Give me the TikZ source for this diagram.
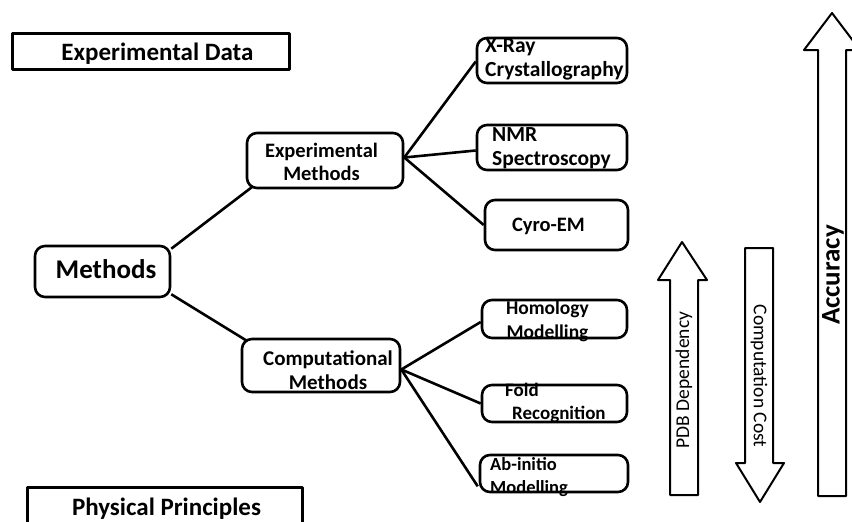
\documentclass[tikz,border=0pt]{standalone}
\usepackage{fontspec}
\setmainfont{Carlito}
\newcommand{\fsz}[2]{\fontsize{#1}{#2}\selectfont\bfseries}
\begin{document}
\begin{tikzpicture}[x=1pt,y=-1pt,
  line join=round,
  sqbox/.style={draw,line width=3pt,rectangle,inner sep=0pt},
  rbox/.style={draw,line width=2.6pt,rectangle,rounded corners=10pt,inner sep=0pt},
  lbl/.style={inner sep=0pt},
  big/.style={font=\fsz{25}{29},inner sep=0pt},
  link/.style={line width=2.6pt},
  fat/.style={draw,line width=2pt,fill=white},
  sidetxt/.style={font=\fontsize{19.5}{22}\selectfont,inner sep=0pt}]
\useasboundingbox (0,0) rectangle (852,522);
\clip (0,0) rectangle (852,522);

% title boxes
\node[sqbox,minimum width=277pt,minimum height=36pt] (expdata) at (150.5,51) {};
\node[big] (expdatat) at (157.5,54) {Experimental Data};
\node[sqbox,minimum width=275pt,minimum height=50pt] (phys) at (164.5,512) {};
\node[big] (physt) at (166.5,509) {Physical Principles};

% method tree
\node[rbox,minimum width=135pt,minimum height=51pt] (meth) at (102.5,271.5) {};
\node[lbl,font=\fsz{27}{30}] at (106,269) {Methods};

\node[rbox,minimum width=156pt,minimum height=55pt] (expm) at (325,160.5) {};
\node[lbl,font=\fsz{20.5}{23},align=center] at (321.5,162) {Experimental\\Methods};

\node[rbox,minimum width=158pt,minimum height=53pt] (compm) at (321,365.5) {};
\node[lbl,font=\fsz{21}{24},align=center] at (328,370.5) {Computational\\Methods};

\node[rbox,minimum width=150pt,minimum height=45pt] (xray) at (552,60.5) {};
\node[lbl,font=\fsz{21.5}{24},align=left,anchor=west] at (485,59.5) {X-Ray\\Crystallography};

\node[rbox,minimum width=150pt,minimum height=45pt] (nmr) at (552,147.5) {};
\node[lbl,font=\fsz{21.5}{24},align=left,anchor=west] at (492,148.5) {NMR\\Spectroscopy};

\node[rbox,minimum width=143pt,minimum height=50pt] (cyro) at (556.5,225) {};
\node[lbl,font=\fsz{20.5}{24}] at (548.5,226) {Cyro-EM};

\node[rbox,minimum width=145pt,minimum height=38pt] (homol) at (554.5,319) {};
\node[lbl,font=\fsz{19.5}{24},align=center] at (547.5,321) {Homology\\Modelling};

\node[rbox,minimum width=145pt,minimum height=37pt] (fold) at (554.5,403.5) {};
\node[lbl,font=\fsz{19}{23},align=left,anchor=west] at (505,402.5) {Fold\\\hspace{7pt}Recognition};

\node[rbox,minimum width=148pt,minimum height=37pt] (abinit) at (554,473.5) {};
\node[lbl,font=\fsz{18.5}{23},align=left,anchor=west] at (490,477.5) {Ab-initio\\Modelling};

% connectors
\draw[link] ([yshift=-4pt]meth.north east) -- ([xshift=6pt,yshift=2pt]expm.south west);
\draw[link] ([yshift=4pt]meth.south east) -- ([xshift=6pt,yshift=-3pt]compm.north west);
\coordinate (ej) at ([yshift=3pt]expm.east);
\draw[link] (ej) -- ([yshift=-1pt]xray.west);
\draw[link] (ej) -- ([yshift=-3pt]nmr.west);
\draw[link] (ej) -- (cyro.west);
\coordinate (cj) at ([yshift=-4pt]compm.east);
\draw[link] (cj) -- ([yshift=-3pt]homol.west);
\draw[link] (cj) -- (fold.west);
\draw[link] (cj) -- ([xshift=-1pt,yshift=7pt]abinit.south west);

% trend arrows
\draw[fat] (670,495) -- (670,280) -- (658,280) -- (682,242) -- (707,280) -- (698,280) -- (698,495) -- cycle;
\node[sidetxt,rotate=90] (pdb) at (684,380) {PDB Dependency};

\draw[fat] (745,248) -- (745,463) -- (736,463) -- (760,502) -- (784,463) -- (773,463) -- (773,248) -- cycle;
\node[sidetxt,rotate=-90] (cost) at (759,376) {Computation Cost};

\draw[fat] (818,496) -- (818,50) -- (804,50) -- (832,13) -- (860,50) -- (846,50) -- (846,496) -- cycle;
\node[font=\fsz{27}{30},inner sep=0pt,rotate=90] (acc) at (833,275) {Accuracy};
\end{tikzpicture}
\end{document}
